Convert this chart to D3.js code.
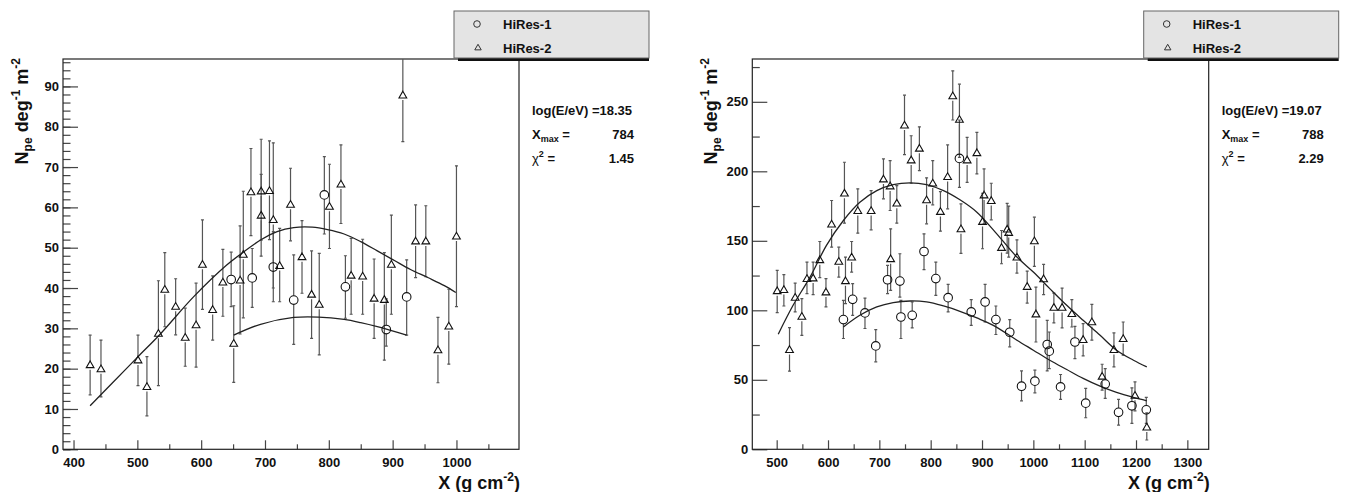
<!DOCTYPE html>
<html>
<head>
<meta charset="utf-8">
<script src="https://cdn.jsdelivr.net/npm/d3@7"></script>
<style>
  body { margin: 0; background: #fff; }
  svg { display: block; }
</style>
</head>
<body>
<svg id="chart"></svg>
<script>
// ---- left panel: log(E/eV)=18.35 ----
const l2X   = [426, 443, 501, 515, 533, 543, 560, 575, 592, 602, 618, 634, 651, 661, 666, 678, 694, 694, 707, 713, 723, 740, 758, 773, 785, 801, 819, 835, 853, 871, 887, 898, 916, 936, 952, 971, 988, 1000];
const l2Y   = [20.8, 19.8, 22.0, 15.4, 28.6, 39.5, 35.3, 27.6, 30.7, 45.7, 34.5, 41.3, 26.1, 41.8, 48.2, 63.7, 63.9, 57.9, 64.0, 56.8, 45.4, 60.6, 47.6, 38.3, 35.8, 60.1, 65.6, 43.0, 42.8, 37.3, 37.0, 45.7, 87.7, 51.5, 51.5, 24.5, 30.4, 52.7];
const l2Top = [28.3, 27.1, 28.3, 23.0, 41.8, 48.8, 42.3, 35.0, 41.2, 56.9, 43.0, 49.6, 35.6, 55.4, 64.0, 74.6, 76.9, 68.2, 76.5, 76.0, 54.8, 69.7, 56.7, 49.2, 48.6, 70.7, 75.5, 52.3, 52.1, 47.2, 48.8, 58.1, 99.0, 60.6, 60.4, 32.7, 39.7, 70.3];
const l2Bot = [13.5, 13.0, 15.8, 8.3, 15.8, 30.4, 28.4, 20.6, 20.4, 34.7, 27.1, 33.0, 16.6, 28.6, 32.6, 53.0, 47.9, 51.9, 52.0, 40.0, 36.6, 51.7, 38.7, 27.5, 23.4, 49.8, 56.0, 33.5, 33.5, 27.5, 22.1, 33.5, 76.3, 42.6, 42.8, 16.5, 21.1, 35.4];

const l1X   = [647, 680, 713, 745, 793, 826, 890, 922];
const l1Y   = [42.1, 42.5, 45.2, 37.0, 63.1, 40.3, 29.7, 37.8];
const l1Top = [48.9, 49.8, 54.0, 48.2, 72.6, 48.0, 37.3, 47.0];
const l1Bot = [35.4, 35.2, 36.6, 26.0, 53.4, 32.5, 25.6, 28.3];

const l2FitX = [426, 460, 500, 536, 588, 640, 667, 693, 719, 745, 774, 798, 824, 850, 876, 902, 928, 955, 981, 999];
const l2FitY = [10.8, 16.3, 22.8, 28.6, 37.8, 45.7, 49.0, 51.9, 54.0, 55.0, 55.1, 54.5, 53.4, 51.5, 49.2, 46.9, 44.6, 42.6, 40.6, 38.9];
const l1FitX = [651, 693, 745, 784, 824, 850, 876, 922];
const l1FitY = [28.3, 31.0, 32.7, 32.8, 32.2, 31.4, 30.4, 28.3];

// ---- right panel: log(E/eV)=19.07 ----
const r2X   = [501, 514, 525, 536, 549, 559, 571, 584, 596, 607, 621, 632, 634, 646, 658, 684, 708, 721, 722, 734, 749, 762, 778, 792, 804, 819, 833, 843, 856, 859, 871, 890, 901, 904, 918, 938, 949, 952, 968, 988, 1002, 1005, 1020, 1040, 1056, 1075, 1097, 1114, 1134, 1157, 1175, 1198, 1221];
const r2Y   = [113.6, 114.4, 71.3, 108.8, 95.2, 122.3, 122.8, 135.9, 112.7, 161.5, 134.7, 183.8, 120.8, 137.8, 171.3, 171.3, 194.0, 189.0, 136.6, 176.6, 232.8, 207.7, 216.1, 179.0, 191.0, 170.6, 195.7, 253.8, 236.9, 158.1, 207.7, 212.9, 163.4, 182.5, 178.5, 144.7, 157.9, 155.5, 137.8, 116.7, 149.5, 96.9, 122.2, 101.6, 101.6, 97.1, 78.5, 91.2, 52.1, 71.3, 79.2, 38.3, 15.5];
const r2Top = [128.7, 125.6, 87.6, 119.6, 108.4, 134.7, 134.7, 149.5, 122.8, 179.0, 145.4, 206.5, 138.3, 149.5, 187.4, 186.1, 208.9, 207.7, 158.6, 189.7, 254.8, 225.6, 232.0, 195.3, 207.7, 185.4, 219.0, 272.3, 262.7, 176.6, 224.4, 228.0, 184.2, 201.7, 191.4, 157.4, 177.0, 175.0, 150.7, 128.2, 167.0, 116.7, 133.0, 112.4, 116.0, 107.7, 90.4, 104.3, 61.2, 83.7, 91.6, 48.5, 26.3];
const r2Bot = [98.3, 103.1, 56.2, 98.8, 82.0, 112.0, 111.3, 123.5, 102.4, 145.4, 123.9, 162.7, 104.8, 127.5, 155.5, 157.9, 180.2, 171.8, 114.4, 162.7, 212.0, 191.4, 200.5, 162.2, 175.9, 156.9, 173.0, 236.9, 210.0, 141.0, 192.1, 198.1, 144.3, 162.2, 165.1, 133.5, 141.1, 138.3, 126.8, 105.2, 131.6, 77.2, 111.3, 90.9, 87.3, 88.0, 67.2, 78.5, 42.6, 59.3, 67.7, 27.7, 6.7];

const r1X   = [630, 648, 672, 693, 716, 740, 742, 764, 787, 810, 834, 856, 879, 906, 927, 954, 977, 1003, 1027, 1031, 1053, 1081, 1102, 1140, 1166, 1192, 1220];
const r1Y   = [93.3, 107.9, 98.1, 74.4, 122.0, 121.0, 95.2, 96.4, 142.3, 122.8, 109.1, 209.3, 98.8, 106.0, 93.3, 84.2, 45.4, 49.0, 75.4, 70.6, 44.9, 77.2, 33.2, 46.9, 26.6, 31.3, 28.4];
const r1Top = [107.2, 119.2, 108.8, 86.1, 132.3, 140.7, 107.2, 106.0, 155.0, 134.7, 118.7, 236.9, 107.7, 118.7, 103.1, 93.3, 56.4, 56.9, 92.8, 84.4, 53.8, 88.5, 43.8, 58.1, 35.9, 44.2, 37.3];
const r1Bot = [79.7, 96.4, 86.9, 62.9, 112.0, 109.5, 79.7, 87.3, 129.2, 110.8, 98.8, 188.5, 89.2, 91.6, 82.6, 73.7, 34.9, 40.6, 56.4, 58.1, 35.9, 65.3, 22.7, 36.6, 17.4, 18.7, 18.7];

const r2FitX = [503, 532, 565, 597, 630, 662, 695, 727, 760, 792, 825, 857, 890, 922, 968, 1000, 1032, 1065, 1097, 1130, 1162, 1195, 1221];
const r2FitY = [82.8, 103.6, 123.9, 146.7, 164.6, 177.7, 186.1, 190.4, 191.7, 190.4, 186.1, 179.5, 170.6, 157.9, 138.3, 127.5, 115.6, 103.6, 92.8, 82.0, 71.3, 64.1, 59.3];
const r1FitX = [630, 662, 695, 727, 760, 792, 825, 857, 890, 922, 968, 1000, 1032, 1065, 1097, 1130, 1162, 1195, 1221];
const r1FitY = [88.0, 96.4, 102.4, 105.5, 106.7, 106.0, 103.1, 99.3, 94.5, 89.2, 78.5, 71.3, 64.1, 57.4, 51.0, 45.4, 40.9, 37.3, 34.9];

// ---- axes ----
const lXMajor = [400, 500, 600, 700, 800, 900, 1000];
const lXMinor = [450, 550, 650, 750, 850, 950, 1050];
const lYMajor = [0, 10, 20, 30, 40, 50, 60, 70, 80, 90];
const lYMinor = d3.range(0, 97, 2);
const rXMajor = [500, 600, 700, 800, 900, 1000, 1100, 1200, 1300];
const rXMinor = [550, 650, 750, 850, 950, 1050, 1150, 1250];
const rYMajor = [0, 50, 100, 150, 200, 250];
const rYMinor = [25, 75, 125, 175, 225, 275];

const legendNames = ['HiRes-1', 'HiRes-2'];
const lStats = ['18.35', '784', '1.45'];
const rStats = ['19.07', '788', '2.29'];

const width = 1346, height = 492;
const FONT = "'Liberation Sans', Arial, Helvetica, sans-serif";

const svg = d3.select('#chart')
    .attr('width', width)
    .attr('height', height)
    .style('font-family', FONT);

function zip(x, y, top, bot) {
    return x.map((v, i) => ({ x: v, y: y[i], top: top[i], bot: bot[i] }));
}

const panels = [
    {
        left: 63, right: 519, top: 59, bottom: 449.3,
        xDomain: [383.5, 1098], yDomain: [0, 96.8],
        xMajor: lXMajor, xMinor: lXMinor, yMajor: lYMajor, yMinor: lYMinor,
        h1: zip(l1X, l1Y, l1Top, l1Bot), h2: zip(l2X, l2Y, l2Top, l2Bot),
        fit1: l1FitX.map((v, i) => [v, l1FitY[i]]),
        fit2: l2FitX.map((v, i) => [v, l2FitY[i]]),
        stats: lStats
    },
    {
        left: 752.3, right: 1208.7, top: 59, bottom: 449.3,
        xDomain: [452.5, 1341.6], yDomain: [0, 280.8],
        xMajor: rXMajor, xMinor: rXMinor, yMajor: rYMajor, yMinor: rYMinor,
        h1: zip(r1X, r1Y, r1Top, r1Bot), h2: zip(r2X, r2Y, r2Top, r2Bot),
        fit1: r1FitX.map((v, i) => [v, r1FitY[i]]),
        fit2: r2FitX.map((v, i) => [v, r2FitY[i]]),
        stats: rStats
    }
];

const tri = d3.symbol().type(d3.symbolTriangle).size(26);
const triSmall = d3.symbol().type(d3.symbolTriangle).size(18);
const fmt = d3.format('d');

panels.forEach((p, k) => {
    const x = d3.scaleLinear().domain(p.xDomain).range([p.left, p.right]);
    const y = d3.scaleLinear().domain(p.yDomain).range([p.bottom, p.top]);
    const g = svg.append('g');

    // ticks (ROOT style, pointing inward)
    g.append('g').attr('transform', `translate(0,${p.bottom})`)
        .call(d3.axisBottom(x).tickValues(p.xMajor).tickFormat(fmt).tickSize(-9).tickPadding(8));
    g.append('g').attr('transform', `translate(0,${p.bottom})`)
        .call(d3.axisBottom(x).tickValues(p.xMinor).tickSize(-5).tickFormat(''));
    g.append('g').attr('transform', `translate(${p.left},0)`)
        .call(d3.axisLeft(y).tickValues(p.yMajor).tickFormat(fmt).tickSize(-15).tickPadding(4));
    g.append('g').attr('transform', `translate(${p.left},0)`)
        .call(d3.axisLeft(y).tickValues(p.yMinor).tickSize(-7.5).tickFormat(''));
    g.selectAll('.domain').remove();
    g.selectAll('.tick line').attr('stroke', '#444').attr('stroke-width', 1.2);
    g.selectAll('.tick text')
        .attr('fill', '#111')
        .style('font-family', FONT)
        .style('font-size', '13px')
        .style('font-weight', 'bold');

    // frame
    g.append('rect')
        .attr('x', p.left).attr('y', p.top)
        .attr('width', p.right - p.left).attr('height', p.bottom - p.top)
        .attr('fill', 'none').attr('stroke', '#222').attr('stroke-width', 1.2);

    const clipId = 'clip' + k;
    svg.append('clipPath').attr('id', clipId)
        .append('rect')
        .attr('x', p.left).attr('y', p.top)
        .attr('width', p.right - p.left).attr('height', p.bottom - p.top);
    const plot = g.append('g').attr('clip-path', `url(#${clipId})`);

    // error bars (gap around the marker, small caps at the ends)
    const gap = 4.3;
    const bars = plot.append('g').attr('stroke', '#555').attr('stroke-width', 1.2);
    [...p.h2, ...p.h1].forEach(d => {
        const cx = x(d.x), cy = y(d.y), yt = y(d.top), yb = y(d.bot);
        if (cy - gap > yt) {
            bars.append('line').attr('x1', cx).attr('x2', cx).attr('y1', yt).attr('y2', cy - gap);
        }
        if (yb > cy + gap) {
            bars.append('line').attr('x1', cx).attr('x2', cx).attr('y1', cy + gap).attr('y2', yb);
        }
        bars.append('line').attr('x1', cx - 1.5).attr('x2', cx + 1.5).attr('y1', yt).attr('y2', yt);
        bars.append('line').attr('x1', cx - 1.5).attr('x2', cx + 1.5).attr('y1', yb).attr('y2', yb);
    });

    // fitted profiles
    const line = d3.line().x(d => x(d[0])).y(d => y(d[1])).curve(d3.curveCatmullRom);
    [p.fit2, p.fit1].forEach(f => {
        plot.append('path').attr('d', line(f))
            .attr('fill', 'none').attr('stroke', '#222').attr('stroke-width', 1.3);
    });

    // markers
    plot.append('g').selectAll('path')
        .data(p.h2)
        .join('path')
            .attr('d', tri)
            .attr('transform', d => `translate(${x(d.x)},${y(d.y)})`)
            .attr('fill', 'none').attr('stroke', '#111').attr('stroke-width', 1.1);
    plot.append('g').selectAll('circle')
        .data(p.h1)
        .join('circle')
            .attr('cx', d => x(d.x)).attr('cy', d => y(d.y)).attr('r', 4.3)
            .attr('fill', 'none').attr('stroke', '#111').attr('stroke-width', 1.1);

    // axis titles
    const yt = g.append('text')
        .attr('transform', `translate(${p.left - 35},${p.top - 1}) rotate(-90)`)
        .attr('text-anchor', 'end')
        .style('font-size', '18px').style('font-weight', 'bold').attr('fill', '#111');
    yt.append('tspan').text('N');
    yt.append('tspan').attr('dy', 4).style('font-size', '12px').text('pe');
    yt.append('tspan').attr('dy', -4).text(' deg');
    yt.append('tspan').attr('dy', -8).style('font-size', '12px').text('-1');
    yt.append('tspan').attr('dy', 8).text(' m');
    yt.append('tspan').attr('dy', -8).style('font-size', '12px').text('-2');

    const xt = g.append('text')
        .attr('x', p.right + 1).attr('y', 489)
        .attr('text-anchor', 'end')
        .style('font-size', '18px').style('font-weight', 'bold').attr('fill', '#111');
    xt.append('tspan').text('X (g cm');
    xt.append('tspan').attr('dy', -8).style('font-size', '12px').text('-2');
    xt.append('tspan').attr('dy', 8).text(')');

    // legend box
    const lx = p.right - 65, lw = 195, ly = 11, lh = 47;
    g.append('rect').attr('x', lx + 4).attr('y', ly + lh).attr('width', lw - 4).attr('height', 3).attr('fill', '#111');
    g.append('rect').attr('x', lx).attr('y', ly).attr('width', lw).attr('height', lh)
        .attr('fill', '#e4e4e4').attr('stroke', '#666').attr('stroke-width', 1);
    g.append('circle').attr('cx', lx + 23).attr('cy', ly + 13).attr('r', 3.3)
        .attr('fill', 'none').attr('stroke', '#333').attr('stroke-width', 1);
    g.append('path').attr('d', triSmall).attr('transform', `translate(${lx + 24},${ly + 37})`)
        .attr('fill', 'none').attr('stroke', '#333').attr('stroke-width', 1);
    legendNames.forEach((n, i) => {
        g.append('text').attr('x', lx + 49).attr('y', ly + 18 + i * 24)
            .style('font-size', '13px').style('font-weight', 'bold').attr('fill', '#111')
            .text(n);
    });

    // fit results
    const sx = p.right + 13, vx = p.right + 115;
    const t1 = g.append('text').attr('x', sx).attr('y', 115)
        .style('font-size', '13px').style('font-weight', 'bold').attr('fill', '#111');
    t1.append('tspan').text('log(E/eV) =' + p.stats[0]);

    const t2 = g.append('text').attr('x', sx).attr('y', 139)
        .style('font-size', '13px').style('font-weight', 'bold').attr('fill', '#111');
    t2.append('tspan').text('X');
    t2.append('tspan').attr('dy', 3).style('font-size', '9px').text('max');
    t2.append('tspan').attr('dy', -3).text(' =');
    g.append('text').attr('x', vx).attr('y', 139).attr('text-anchor', 'end')
        .style('font-size', '13px').style('font-weight', 'bold').attr('fill', '#111')
        .text(p.stats[1]);

    const t3 = g.append('text').attr('x', sx).attr('y', 163)
        .style('font-size', '13px').attr('fill', '#111');
    t3.append('tspan').text('χ');
    t3.append('tspan').attr('dy', -6).style('font-size', '9px').style('font-weight', 'bold').text('2');
    t3.append('tspan').attr('dy', 6).style('font-weight', 'bold').text(' =');
    g.append('text').attr('x', vx).attr('y', 163).attr('text-anchor', 'end')
        .style('font-size', '13px').style('font-weight', 'bold').attr('fill', '#111')
        .text(p.stats[2]);
});
</script>
</body>
</html>
